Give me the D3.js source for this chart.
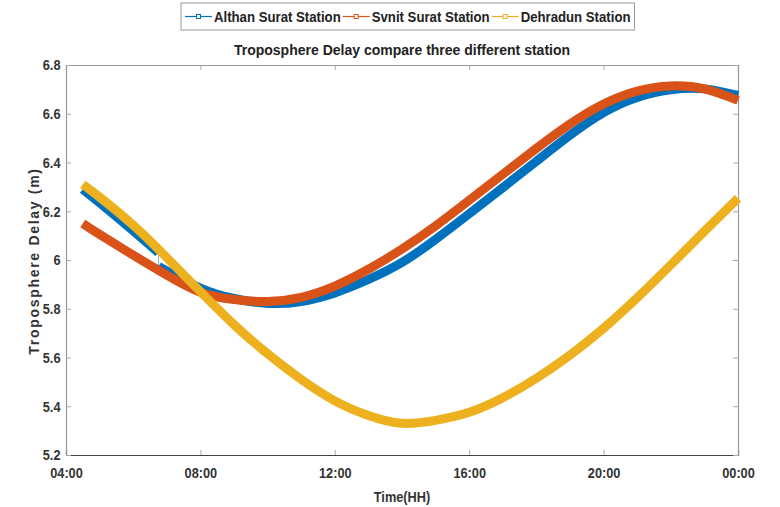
<!DOCTYPE html>
<html>
<head>
<meta charset="utf-8">
<script src="https://cdn.jsdelivr.net/npm/d3@7"></script>
<style>
  body { margin: 0; background: #fff; }
  svg text { font-family: "Liberation Sans", Arial, sans-serif; font-weight: bold; }
</style>
</head>
<body>
<svg id="chart" width="780" height="507"></svg>
<script>
// hours after midnight
var hours = [4.5, 5, 6, 7, 8, 9, 10, 11, 12, 13, 14, 15, 16, 17, 18, 19, 20, 21, 22, 23, 24];

// Althan Surat has a break at ~06:45
var althanHoursA = [4.5, 5, 6, 6.75];
var althanA = [6.29, 6.235, 6.12, 6.03];
var althanHoursB = [6.75, 7, 8, 9, 10, 11, 12, 13, 14, 15, 16, 17, 18, 19, 20, 21, 22, 23, 24];
var althanB = [5.975, 5.955, 5.885, 5.842, 5.822, 5.83, 5.865, 5.92, 5.99, 6.085, 6.19, 6.297, 6.405, 6.512, 6.605, 6.667, 6.698, 6.702, 6.675];

var svnit = [6.15, 6.105, 6.02, 5.938, 5.868, 5.838, 5.83, 5.847, 5.893, 5.962, 6.045, 6.14, 6.245, 6.352, 6.458, 6.558, 6.64, 6.693, 6.714, 6.702, 6.655];
var dehradun = [6.31, 6.258, 6.143, 6.01, 5.87, 5.735, 5.615, 5.51, 5.422, 5.362, 5.33, 5.342, 5.375, 5.435, 5.515, 5.61, 5.72, 5.845, 5.98, 6.118, 6.253];

var seriesNames = ['Althan Surat Station', 'Svnit Surat Station', 'Dehradun Station'];
var seriesColors = ['#0072BD', '#D95319', '#EDB120'];

var xTicks = [4, 8, 12, 16, 20, 24];
var xTickLabels = ['04:00', '08:00', '12:00', '16:00', '20:00', '00:00'];
var yTicks = [5.2, 5.4, 5.6, 5.8, 6, 6.2, 6.4, 6.6, 6.8];

var margin = {top: 65, right: 42, bottom: 52, left: 66},
    width = 780 - margin.left - margin.right,
    height = 507 - margin.top - margin.bottom;

// the reference uses a condensed bold face; squeeze text horizontally
var squeeze = 0.85;

var svg = d3.select('#chart');
var g = svg.append('g')
    .attr('transform', 'translate(' + margin.left + ',' + margin.top + ')');

var x = d3.scaleLinear().domain([4, 24]).range([0, width]);
var y = d3.scaleLinear().domain([5.2, 6.8]).range([height, 0]);

drawAxes();
drawLines();
drawTexts();
drawLegend();

function drawAxes() {
    var tickLen = 5;
    var fmtY = function(d) { return d3.format('.1f')(d).replace(/\.0$/, ''); };

    // bottom
    g.append('g')
        .attr('class', 'axisX')
        .attr('transform', 'translate(0,' + height + ')')
        .call(d3.axisBottom(x).tickValues(xTicks)
            .tickFormat(function(d, i) { return xTickLabels[i]; })
            .tickSize(-tickLen).tickPadding(12));
    // top
    g.append('g')
        .attr('class', 'axisTop')
        .call(d3.axisTop(x).tickValues(xTicks).tickFormat('').tickSize(-tickLen));
    // left
    g.append('g')
        .attr('class', 'axisY')
        .call(d3.axisLeft(y).tickValues(yTicks).tickFormat(fmtY)
            .tickSize(-tickLen).tickPadding(6.5));
    // right
    g.append('g')
        .attr('class', 'axisRight')
        .attr('transform', 'translate(' + width + ',0)')
        .call(d3.axisRight(y).tickValues(yTicks).tickFormat('').tickSize(-tickLen));

    g.selectAll('.domain').attr('stroke', '#999').attr('stroke-width', 1.2);
    g.select('.axisX .domain').attr('stroke', '#444');
    g.selectAll('.tick line').attr('stroke', '#aaa');
    g.selectAll('.tick text')
        .attr('fill', '#333')
        .attr('transform', 'scale(' + squeeze + ',1)')
        .style('font-size', '15px');
}

function drawLines() {
    var line = d3.line()
        .x(function(d) { return x(d[0]); })
        .y(function(d) { return y(d[1]); })
        .curve(d3.curveNatural);

    var althanPtsA = d3.zip(althanHoursA, althanA),
        althanPtsB = d3.zip(althanHoursB, althanB);

    // thin connector across the break
    g.append('path')
        .attr('d', d3.line()([[x(althanHoursA[3]), y(althanA[3])], [x(althanHoursB[0]), y(althanB[0])]]))
        .attr('stroke', '#7fb8de')
        .attr('stroke-width', 1)
        .attr('fill', 'none');

    [althanPtsA, althanPtsB].forEach(function(pts) {
        g.append('path')
            .attr('d', line(pts))
            .attr('stroke', seriesColors[0])
            .attr('stroke-width', 9)
            .attr('fill', 'none');
    });

    [svnit, dehradun].forEach(function(vals, i) {
        g.append('path')
            .attr('d', line(d3.zip(hours, vals)))
            .attr('stroke', seriesColors[i + 1])
            .attr('stroke-width', 9)
            .attr('fill', 'none');
    });
}

function squeezedText(parent, px, py, anchor, size, txt) {
    var t = parent.append('g')
        .attr('transform', 'translate(' + px + ',' + py + ') scale(' + squeeze + ',1)')
        .append('text')
        .attr('text-anchor', anchor)
        .attr('fill', '#222')
        .style('font-size', size)
        .text(txt);
    return t;
}

function drawTexts() {
    svg.append('text')
        .attr('x', margin.left + width / 2)
        .attr('y', 55)
        .attr('text-anchor', 'middle')
        .attr('fill', '#222')
        .style('font-size', '14px')
        .text('Troposphere Delay compare three different station');

    squeezedText(svg, margin.left + width / 2, 502, 'middle', '15px', 'Time(HH)')
        .attr('fill', '#333');

    svg.append('text')
        .attr('transform', 'translate(39,' + (margin.top + height / 2 + 1) + ') rotate(-90)')
        .attr('text-anchor', 'middle')
        .attr('fill', '#333')
        .style('font-size', '14px')
        .style('letter-spacing', '1.7px')
        .text('Troposphere Delay (m)');
}

function drawLegend() {
    var left = 181, top = 3, boxH = 27, lineLen = 27, textSqueeze = 0.88;
    var legend = svg.append('g').attr('class', 'legend');
    var box = legend.append('rect')
        .attr('x', left).attr('y', top)
        .attr('height', boxH)
        .attr('fill', '#fff')
        .attr('stroke', '#999');

    var cx = left + 4;
    seriesNames.forEach(function(name, i) {
        var ly = top + boxH / 2;
        legend.append('line')
            .attr('x1', cx).attr('x2', cx + lineLen)
            .attr('y1', ly).attr('y2', ly)
            .attr('stroke', seriesColors[i]).attr('stroke-width', 1.2);
        legend.append('rect')
            .attr('x', cx + lineLen / 2 - 2).attr('y', ly - 2)
            .attr('width', 4).attr('height', 4)
            .attr('fill', '#fff')
            .attr('stroke', seriesColors[i]).attr('stroke-width', 1);
        var t = legend.append('g')
            .attr('transform', 'translate(' + (cx + lineLen + 2) + ',' + (ly + 5.5) + ') scale(' + textSqueeze + ',1)')
            .append('text')
            .attr('fill', '#222')
            .style('font-size', '15px')
            .text(name);
        cx += lineLen + 2 + t.node().getComputedTextLength() * textSqueeze + 2;
    });
    box.attr('width', cx - left + 2);
}
</script>
</body>
</html>
